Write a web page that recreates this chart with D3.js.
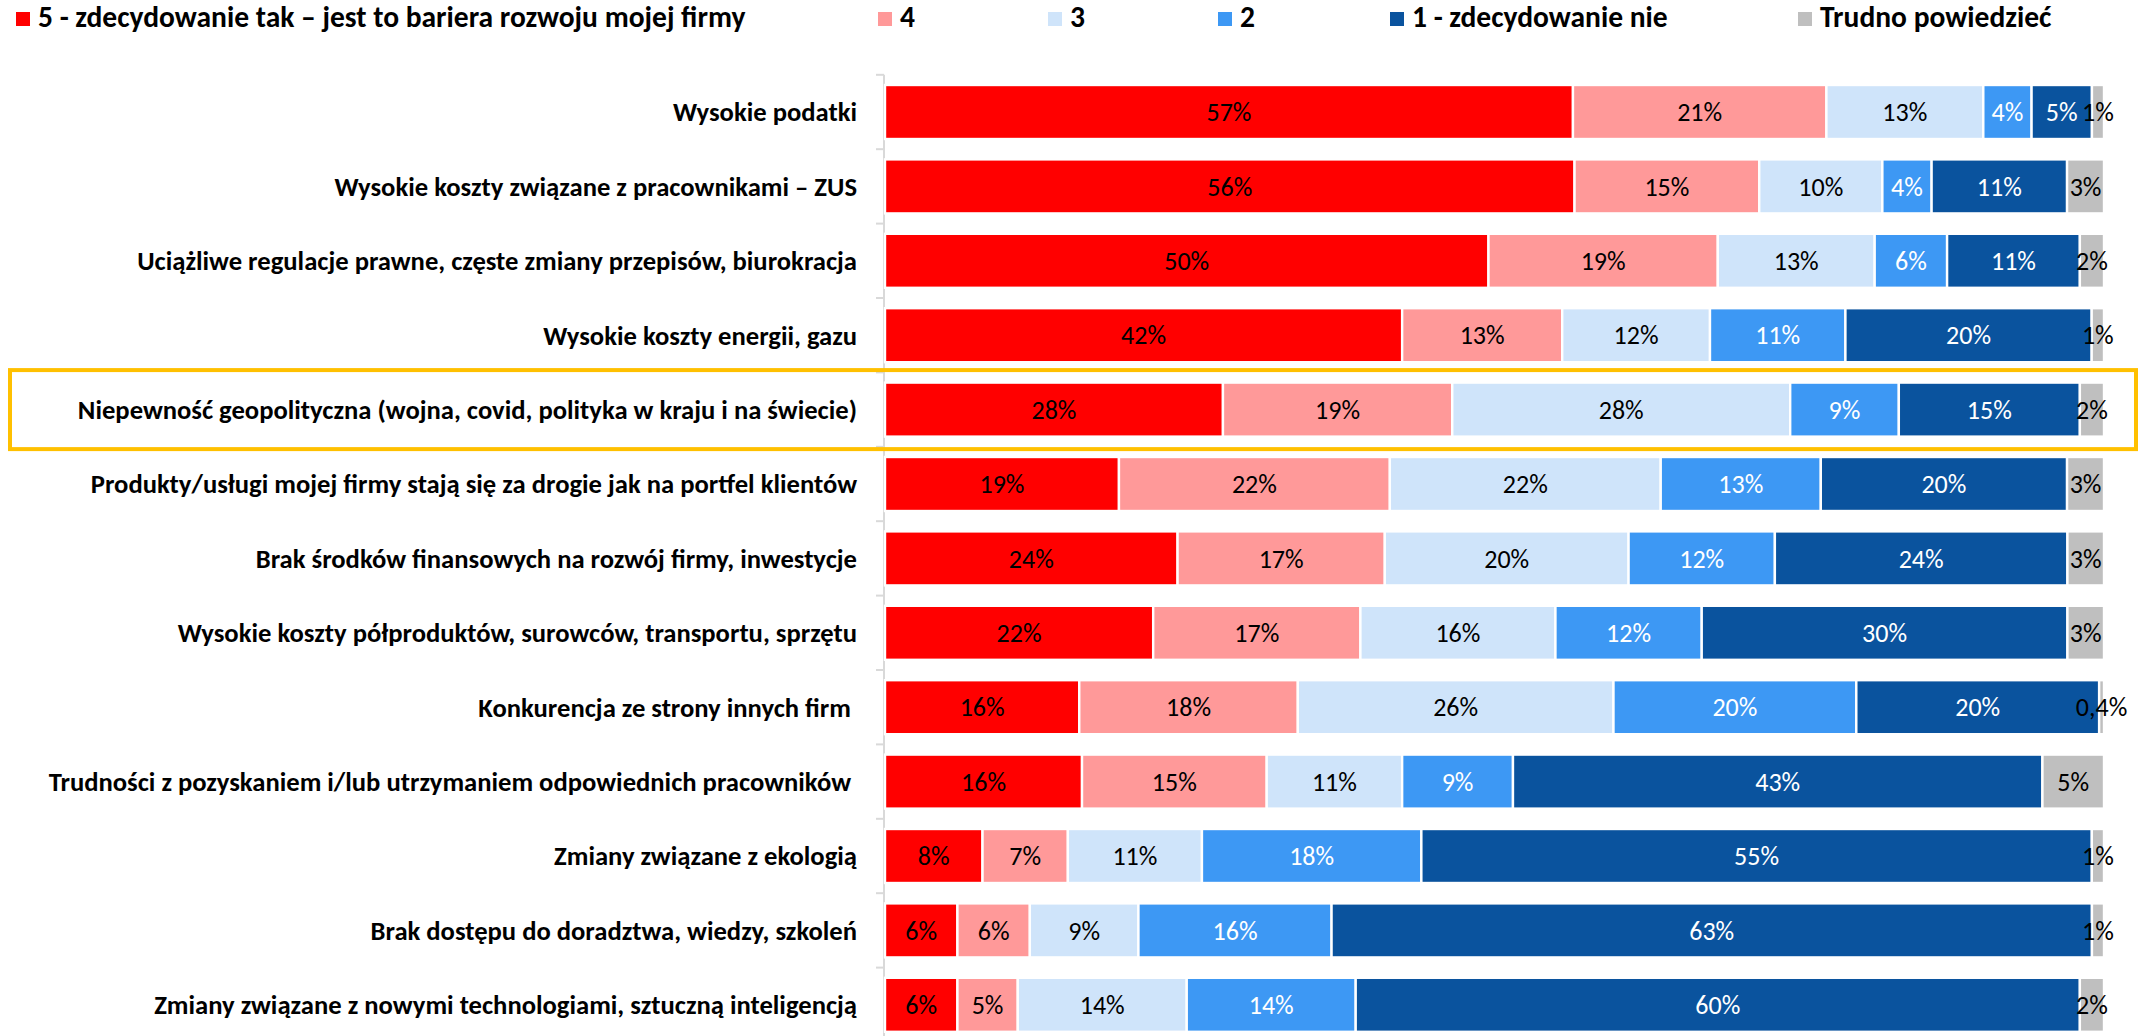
<!DOCTYPE html>
<html><head><meta charset="utf-8">
<script src="https://cdn.jsdelivr.net/npm/d3@7"></script>
<style>
html,body{margin:0;padding:0;background:#fff;}
svg{display:block;}
text{font-family: Carlito, Calibri, Lato, sans-serif;}
</style></head><body>
<svg id="chart" width="2154" height="1036"></svg>
<script>
const categories = [
  "Wysokie podatki",
  "Wysokie koszty związane z pracownikami – ZUS",
  "Uciążliwe regulacje prawne, częste zmiany przepisów, biurokracja",
  "Wysokie koszty energii, gazu",
  "Niepewność geopolityczna (wojna, covid, polityka w kraju i na świecie)",
  "Produkty/usługi mojej firmy stają się za drogie jak na portfel klientów",
  "Brak środków finansowych na rozwój firmy, inwestycje",
  "Wysokie koszty półproduktów, surowców, transportu, sprzętu",
  "Konkurencja ze strony innych firm ",
  "Trudności z pozyskaniem i/lub utrzymaniem odpowiednich pracowników ",
  "Zmiany związane z ekologią",
  "Brak dostępu do doradztwa, wiedzy, szkoleń",
  "Zmiany związane z nowymi technologiami, sztuczną inteligencją"
];
const seriesNames = ["5 - zdecydowanie tak – jest to bariera rozwoju mojej firmy", "4", "3", "2", "1 - zdecydowanie nie", "Trudno powiedzieć"];
const s5  = [57, 56, 50, 42, 28, 19, 24, 22, 16, 16, 8, 6, 6];
const s4  = [21, 15, 19, 13, 19, 22, 17, 17, 18, 15, 7, 6, 5];
const s3  = [13, 10, 13, 12, 28, 22, 20, 16, 26, 11, 11, 9, 14];
const s2  = [4, 4, 6, 11, 9, 13, 12, 12, 20, 9, 18, 16, 14];
const s1  = [5, 11, 11, 20, 15, 20, 24, 30, 20, 43, 55, 63, 60];
const sTP = [1, 3, 2, 1, 2, 3, 3, 3, 0.4, 5, 1, 1, 2];
const highlighted = "Niepewność geopolityczna (wojna, covid, polityka w kraju i na świecie)";
const colors = ["#FF0000", "#FF9999", "#CFE4FA", "#3D98F4", "#0A539E", "#BFBFBF"];
const labelColors = ["#000000", "#000000", "#000000", "#FFFFFF", "#FFFFFF", "#000000"];

const seriesValues = [s5, s4, s3, s2, s1, sTP];
const keys = seriesNames.map((d, i) => "k" + i);
const rows = categories.map((c, j) => {
  const o = {cat: c};
  keys.forEach((k, i) => o[k] = seriesValues[i][j]);
  return o;
});

const svg = d3.select("#chart");

// font fitting helpers (match Calibri metrics with available font)
function measure(txt, size, weight) {
  const t = svg.append("text").attr("font-size", size).attr("font-weight", weight).text(txt);
  const w = t.node().getComputedTextLength();
  t.remove();
  return w;
}
const catFont = 26 * 803 / measure("Trudności z pozyskaniem i/lub utrzymaniem odpowiednich pracowników", 26, "bold");
const legFont = 26 * 708 / measure(seriesNames[0], 26, "bold");
const valFont = 26 * 45 / measure("57%", 26, "normal");

const x = d3.scaleLinear().domain([0, 1]).range([885, 2104]);
const y = d3.scaleBand().domain(categories).range([74.8, 1042]).paddingInner(0.274).paddingOuter(0.137);

const stack = d3.stack().keys(keys).offset(d3.stackOffsetExpand);
const stacked = stack(rows);

// axis line with ticks at category boundaries
const axisG = svg.append("g");
axisG.append("line").attr("x1", 884).attr("x2", 884).attr("y1", y.range()[0]).attr("y2", y.range()[1])
  .attr("stroke", "#D9D9D9").attr("stroke-width", 2);
const boundaries = categories.map(c => y(c) - y.step() * y.paddingInner() / 2).concat([y.range()[1]]);
axisG.selectAll("line.tick").data(boundaries).join("line").attr("class", "tick")
  .attr("x1", 876).attr("x2", 884).attr("y1", d => d).attr("y2", d => d)
  .attr("stroke", "#D9D9D9").attr("stroke-width", 2);

// bars
const layers = svg.append("g").selectAll("g").data(stacked).join("g")
  .attr("fill", (d, i) => colors[i]);
layers.selectAll("rect").data(d => d).join("rect")
  .attr("x", d => x(d[0]))
  .attr("width", d => Math.max(0, x(d[1]) - x(d[0])))
  .attr("y", d => y(d.data.cat))
  .attr("height", y.bandwidth())
  .attr("stroke", "#FFFFFF").attr("stroke-width", 2.4);

// data labels
const fmt = v => (v < 1 ? String(v).replace(".", ",") : String(v)) + "%";
const labG = svg.append("g");
stacked.forEach((layer, i) => {
  labG.selectAll(null).data(layer).join("text")
    .attr("x", d => (x(d[0]) + x(d[1])) / 2)
    .attr("y", d => y(d.data.cat) + y.bandwidth() / 2)
    .attr("dy", "0.35em")
    .attr("text-anchor", "middle")
    .attr("font-size", valFont)
    .attr("fill", labelColors[i])
    .text(d => fmt(d.data[keys[i]]));
});

// category labels
svg.append("g").selectAll("text").data(categories).join("text")
  .attr("x", 857)
  .attr("y", d => y(d) + y.bandwidth() / 2)
  .attr("dy", "0.35em")
  .attr("text-anchor", "end")
  .attr("font-weight", "bold")
  .attr("font-size", catFont)
  .attr("fill", "#000")
  .style("white-space", "pre")
  .text(d => d);

// highlight box
svg.append("rect")
  .attr("x", 10).attr("width", 2126)
  .attr("y", y(highlighted) - 12.5).attr("height", y.bandwidth() + 25)
  .attr("fill", "none").attr("stroke", "#FFC000").attr("stroke-width", 4);

// legend
const legendX = [16, 878, 1048, 1218, 1390, 1798];
const lg = svg.append("g").selectAll("g").data(seriesNames).join("g")
  .attr("transform", (d, i) => `translate(${legendX[i]},0)`);
lg.append("rect").attr("x", 0).attr("y", 12).attr("width", 14).attr("height", 14)
  .attr("fill", (d, i) => colors[i]);
lg.append("text").attr("x", 22).attr("y", 27)
  .attr("font-weight", "bold").attr("font-size", legFont).attr("fill", "#000")
  .text(d => d);
</script>
</body></html>
